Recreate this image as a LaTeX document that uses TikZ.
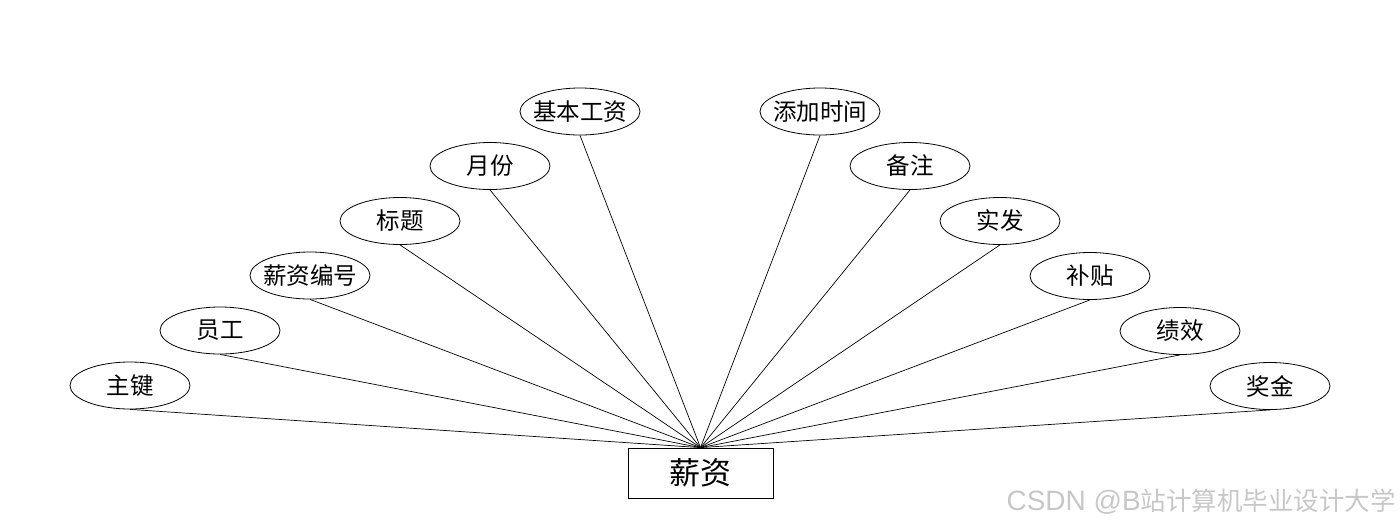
\documentclass[tikz,border=0pt]{standalone}
\usepackage{fontspec}
\setmainfont{Noto Sans CJK SC}
\newfontfamily\cjk{Noto Sans CJK SC}
\newfontfamily\wmlatin{Liberation Sans}
\newcommand\flbl[1]{\makebox[0pt]{#1}}
\usetikzlibrary{shapes.geometric}
\begin{document}
\begin{tikzpicture}[x=1pt,y=-1pt,
  attr/.style={draw,ellipse,line width=0.8pt,minimum width=120pt,minimum height=47pt,inner sep=0pt,font=\cjk\fontsize{23.5}{23.5}\selectfont},
  ent/.style={draw,rectangle,line width=0.8pt,minimum width=145pt,minimum height=50pt,inner sep=0pt,font=\cjk\fontsize{31}{31}\selectfont},
  conn/.style={line width=0.7pt}]
\useasboundingbox (0,0) rectangle (1400,528);
\node[ent] (e) at (700.5,473) {薪资};
\node[attr] (a1) at (130,385.5) {\flbl{主键}};
\node[attr] (a2) at (220,330.5) {\flbl{员工}};
\node[attr] (a3) at (310,275.5) {\flbl{薪资编号}};
\node[attr] (a4) at (400,221) {\flbl{标题}};
\node[attr] (a5) at (490,166) {\flbl{月份}};
\node[attr] (a6) at (580,111.5) {\flbl{基本工资}};
\node[attr] (a7) at (820,111.5) {\flbl{添加时间}};
\node[attr] (a8) at (910,166) {\flbl{备注}};
\node[attr] (a9) at (1000,221) {\flbl{实发}};
\node[attr] (a10) at (1090,276) {\flbl{补贴}};
\node[attr] (a11) at (1180,331) {\flbl{绩效}};
\node[attr] (a12) at (1270,386) {\flbl{奖金}};
\foreach \i in {1,...,12} {\draw[conn] (a\i.south) -- (e.north);}
\node[anchor=east,text=black!22,inner sep=0pt] (wm) at (1396,502) {{\wmlatin\fontsize{28}{28}\selectfont CSDN @B}{\cjk\fontsize{25.5}{25.5}\selectfont 站计算机毕业设计大学}};
\end{tikzpicture}
\end{document}
